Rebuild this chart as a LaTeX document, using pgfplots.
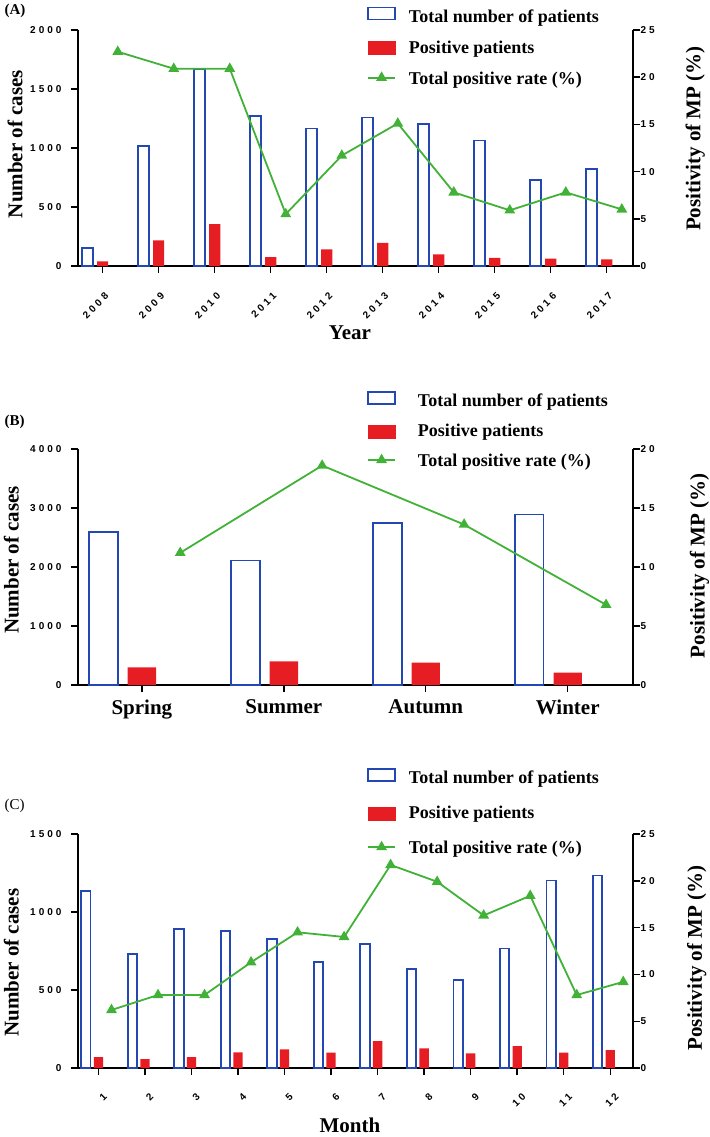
\documentclass[border=0pt]{standalone}
\usepackage{fontspec}
\setmainfont{Liberation Serif}
\newfontfamily\ticksans{Liberation Sans}[LetterSpace=30]
\usepackage{pgfplots}
\pgfplotsset{compat=1.18}
\definecolor{barblue}{RGB}{35,72,180}
\definecolor{barred}{RGB}{230,30,35}
\definecolor{lgreen}{RGB}{65,178,55}

\pgfplotsset{
  panel/.style={
    scale only axis, width=555pt,
    anchor=south west,
    axis line style={line width=1.6pt, black, -},
    tick style={line width=1.4pt, black},
    major tick length=7pt,
    tick align=outside,
    ticklabel style={font=\ticksans\bfseries\fontsize{10}{12}\selectfont},
    /pgf/number format/assume math mode=true,
    /pgf/number format/1000 sep={},
    ymin=0,
    clip=false,
    label style={font=\bfseries\fontsize{21}{24}\selectfont},
  },
  leftax/.style={panel, axis x line*=bottom, axis y line*=left,
    yticklabel style={xshift=-6pt}},
  rightax/.style={panel, axis x line=none, axis y line*=right, xtick=\empty,
    yticklabel style={xshift=-3pt},
    legend cell align=left,
    legend style={draw=none, fill=none, inner sep=0pt, anchor=north west,
      font=\bfseries\fontsize{18}{20}\selectfont,
      nodes={inner sep=0pt, text height=13pt, text depth=4pt}}},
  totbar/.style={ybar, bar width=0.2, bar shift=-0.27, draw=barblue, fill=white, line width=1.8pt},
  posbar/.style={ybar, bar width=0.2, bar shift=0, draw=none, fill=barred},
  lgtot/.style={legend image code/.code={\draw[barblue, fill=white, line width=1.6pt] (0pt,-2pt) rectangle (27pt,10pt);}},
  lgpos/.style={legend image code/.code={\fill[barred] (0pt,-6pt) rectangle (27pt,7pt);}},
  rateline/.style={lgreen, line width=1.8pt, mark=triangle*, mark size=4.5pt, mark options={lgreen, solid},
    legend image code/.code={\draw[mark repeat=2,mark phase=2,##1] plot coordinates {(0pt,2pt) (13.5pt,2pt) (27pt,2pt)};}},
}

\begin{document}
\begin{tikzpicture}
\useasboundingbox (0pt,0pt) rectangle (709pt,-1137pt);

% ---------------- Panel A ----------------
\node[font=\bfseries\fontsize{15}{17}\selectfont, anchor=west] at (1pt,-11pt) {(A)};
\begin{axis}[leftax, at={(78pt,-266pt)}, height=236pt,
  xmin=-0.44, xmax=9.47, ymax=2000, ytick={0,500,...,2000},
  xtick={0,...,9}, xticklabels={2008,2009,2010,2011,2012,2013,2014,2015,2016,2017},
  xticklabel style={rotate=45, anchor=east, xshift=-9pt, yshift=-18pt},
  xlabel={Year}, xlabel style={at={(axis description cs:0.49,-0.284)}, anchor=center},
  ylabel={Number of cases}, ylabel style={at={(axis description cs:-0.1135,0.517)}, anchor=center}]
\addplot[totbar] coordinates {(0,150) (1,1015) (2,1670) (3,1273) (4,1165) (5,1259) (6,1205) (7,1064) (8,727) (9,820)};
\addplot[posbar] coordinates {(0,40) (1,218) (2,354) (3,76) (4,141) (5,195) (6,99) (7,68) (8,62) (9,57)};
\end{axis}
\begin{axis}[rightax, at={(78pt,-266pt)}, height=236pt,
  xmin=-0.44, xmax=9.47, ymax=25, ytick={0,5,...,25},
  ylabel={Positivity of MP (\%)}, ylabel style={at={(axis description cs:1.112,0.54)}, anchor=center},
  legend style={at={(axis description cs:0.5207,1.099)}, column sep=13pt, row sep=14pt}]
\addlegendimage{lgtot}\addlegendentry{Total number of patients}
\addlegendimage{lgpos}\addlegendentry{Positive patients}
\addplot[rateline] coordinates {(0.27,22.7) (1.27,20.9) (2.27,20.9) (3.27,5.5) (4.27,11.7) (5.27,15.1) (6.27,7.8) (7.27,5.9) (8.27,7.8) (9.27,6.0)};
\addlegendentry{Total positive rate (\%)}
\end{axis}

% ---------------- Panel B ----------------
\node[font=\bfseries\fontsize{15}{17}\selectfont, anchor=west] at (1pt,-422pt) {(B)};
\begin{axis}[leftax, at={(78pt,-685pt)}, height=236pt,
  xmin=-0.45, xmax=3.46, ymax=4000, ytick={0,1000,...,4000},
  xtick={0,...,3}, xticklabels={Spring,Summer,Autumn,Winter},
  xticklabel style={font=\bfseries\fontsize{21}{24}\selectfont, yshift=-4pt},
  ylabel={Number of cases}, ylabel style={at={(axis description cs:-0.12,0.53)}, anchor=center}]
\addplot[totbar] coordinates {(0,2590) (1,2110) (2,2750) (3,2890)};
\addplot[posbar] coordinates {(0,300) (1,400) (2,380) (3,210)};
\end{axis}
\begin{axis}[rightax, at={(78pt,-685pt)}, height=236pt,
  xmin=-0.45, xmax=3.46, ymax=20, ytick={0,5,...,20},
  ylabel={Positivity of MP (\%)}, ylabel style={at={(axis description cs:1.12,0.505)}, anchor=center},
  legend style={at={(axis description cs:0.5207,1.246)}, column sep=22pt, row sep=13pt}]
\addlegendimage{lgtot}\addlegendentry{Total number of patients}
\addlegendimage{lgpos}\addlegendentry{Positive patients}
\addplot[rateline] coordinates {(0.27,11.2) (1.27,18.6) (2.27,13.6) (3.27,6.8)};
\addlegendentry{Total positive rate (\%)}
\end{axis}

% ---------------- Panel C ----------------
\node[font=\fontsize{15}{17}\selectfont, anchor=west] at (1pt,-806pt) {(C)};
\begin{axis}[leftax, at={(78pt,-1068pt)}, height=234pt,
  xmin=-0.44, xmax=11.49, ymax=1500, ytick={0,500,...,1500},
  xtick={0,...,11}, xticklabels={1,2,3,4,5,6,7,8,9,10,11,12},
  xticklabel style={rotate=45, anchor=east, xshift=-6pt, yshift=-19pt},
  xlabel={Month}, xlabel style={at={(axis description cs:0.49,-0.247)}, anchor=center},
  ylabel={Number of cases}, ylabel style={at={(axis description cs:-0.12,0.45)}, anchor=center}]
\addplot[totbar] coordinates {(0,1136) (1,732) (2,889) (3,877) (4,826) (5,681) (6,794) (7,636) (8,566) (9,766) (10,1202) (11,1234)};
\addplot[posbar] coordinates {(0,70) (1,57) (2,70) (3,100) (4,119) (5,98) (6,172) (7,126) (8,94) (9,140) (10,98) (11,115)};
\end{axis}
\begin{axis}[rightax, at={(78pt,-1068pt)}, height=234pt,
  xmin=-0.44, xmax=11.49, ymax=25, ytick={0,5,...,25},
  ylabel={Positivity of MP (\%)}, ylabel style={at={(axis description cs:1.115,0.47)}, anchor=center},
  legend style={at={(axis description cs:0.5207,1.282)}, column sep=13pt, row sep=18pt}]
\addlegendimage{lgtot}\addlegendentry{Total number of patients}
\addlegendimage{lgpos}\addlegendentry{Positive patients}
\addplot[rateline] coordinates {(0.28,6.2) (1.28,7.8) (2.28,7.8) (3.28,11.3) (4.28,14.5) (5.28,14.0) (6.28,21.7) (7.28,19.9) (8.28,16.3) (9.28,18.4) (10.28,7.8) (11.28,9.2)};
\addlegendentry{Total positive rate (\%)}
\end{axis}
\end{tikzpicture}
\end{document}
